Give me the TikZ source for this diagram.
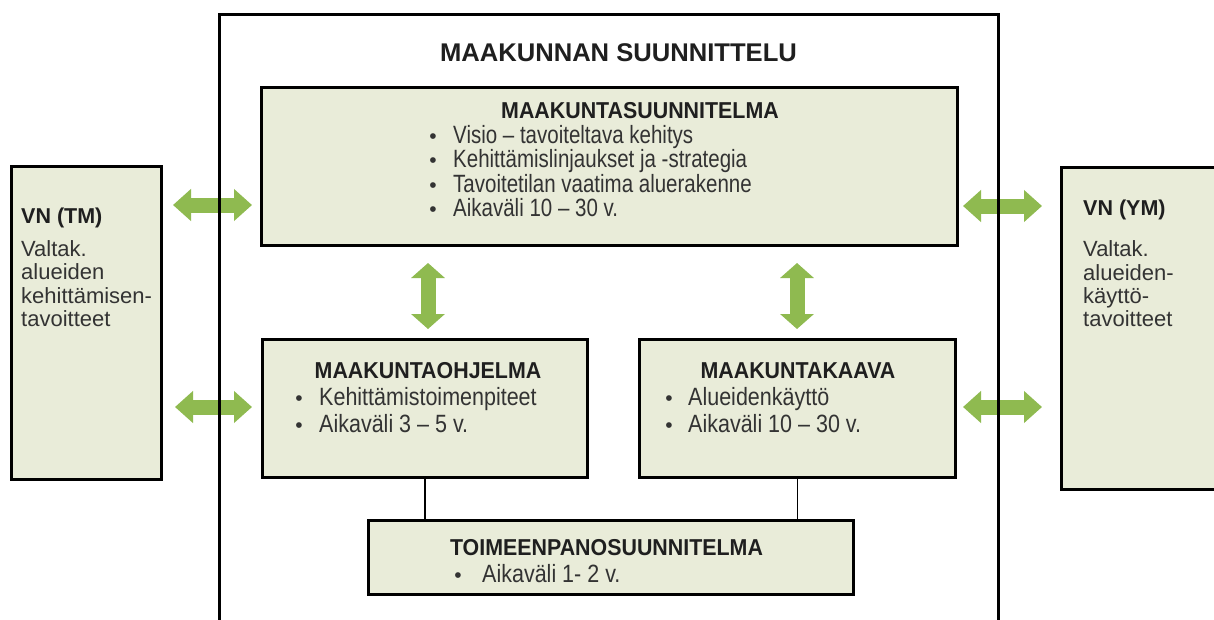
\documentclass[tikz,border=0pt]{standalone}
\usepackage{fontspec}
\setmainfont{Liberation Sans}
\newfontfamily\narrowfont{Liberation Sans}[FakeStretch=0.86]
\newfontfamily\narrowerfont{Liberation Sans}[FakeStretch=0.82]
\newfontfamily\headfont{Liberation Sans}[FakeStretch=0.93]
\usetikzlibrary{arrows.meta}
\definecolor{boxfill}{HTML}{E9ECD9}
\definecolor{arrowgreen}{HTML}{8FBA50}
\definecolor{bodytext}{HTML}{333333}
\begin{document}
\begin{tikzpicture}[x=1pt,y=-1pt,
  box/.style={draw=black, line width=3pt, fill=boxfill, anchor=north west, inner sep=0pt},
  framebox/.style={draw=black, line width=3pt, anchor=north west, inner sep=0pt},
  titletext/.style={font=\fontsize{25.6}{30}\selectfont\bfseries, text=black!88, anchor=base, inner sep=0pt},
  headtext/.style={font=\headfont\fontsize{23}{27}\selectfont\bfseries, text=black!88, anchor=base, inner sep=0pt},
  bodyline/.style={font=\narrowfont\fontsize{25}{29}\selectfont, text=bodytext, anchor=base west, inner sep=0pt},
  upperline/.style={font=\narrowerfont\fontsize{25}{29}\selectfont, text=bodytext, anchor=base west, inner sep=0pt},
  bulletdot/.style={font=\fontsize{21}{25}\selectfont, text=bodytext, anchor=base, inner sep=0pt},
  vnhead/.style={font=\fontsize{21.5}{26}\selectfont\bfseries, text=black!88, anchor=base west, inner sep=0pt},
  vnbody/.style={font=\fontsize{22}{26}\selectfont, text=bodytext, anchor=base west, inner sep=0pt},
  harrow/.style={draw=arrowgreen, line width=15pt, {Triangle[length=18pt,width=31pt]}-{Triangle[length=18pt,width=31pt]}},
  varrow/.style={draw=arrowgreen, line width=15pt, {Triangle[length=15pt,width=33pt]}-{Triangle[length=15pt,width=33pt]}},
  conn/.style={draw=black, line width=1.5pt}]
\useasboundingbox (0,0) rectangle (1214,619);
\clip (0,0) rectangle (1214,619);
\fill[white] (0,0) rectangle (1214,619);

% coordinates for arrows
\coordinate (la1) at (173,205); \coordinate (la2) at (252,205);
\coordinate (lb1) at (175,407); \coordinate (lb2) at (252,407);
\coordinate (ra1) at (963,206); \coordinate (ra2) at (1042,206);
\coordinate (rb1) at (963,407); \coordinate (rb2) at (1042,407);
\coordinate (va1) at (428,263); \coordinate (va2) at (428,329);
\coordinate (vb1) at (797,263); \coordinate (vb2) at (797,329);

% green double arrows
\draw[harrow] (la1) -- (la2);
\draw[harrow] (lb1) -- (lb2);
\draw[harrow] (ra1) -- (ra2);
\draw[harrow] (rb1) -- (rb2);
\draw[varrow] (va1) -- (va2);
\draw[varrow] (vb1) -- (vb2);

% outer frame
\node[framebox, minimum width=779pt, minimum height=627pt] (main) at (218,13) {};
\node[titletext] (title) at (618.5,61.7) {MAAKUNNAN SUUNNITTELU};

% side boxes
\node[box, minimum width=150pt, minimum height=313pt] (vntm) at (10,165) {};
\node[box, minimum width=180pt, minimum height=322pt] (vnym) at (1060,166) {};

% inner boxes
\node[box, minimum width=696pt, minimum height=158pt] (ms) at (260,86) {};
\node[box, minimum width=325pt, minimum height=138pt] (mo) at (261,338) {};
\node[box, minimum width=316pt, minimum height=138pt] (mk) at (638,338) {};
\node[box, minimum width=485pt, minimum height=74pt] (tp) at (367,519) {};

% connectors
\draw[conn] (mo.south) -- (mo.south |- tp.north);
\draw[conn] (mk.south) -- (mk.south |- tp.north);

% MAAKUNTASUUNNITELMA
\node[headtext] (msh) at (640,118) {MAAKUNTASUUNNITELMA};
\node[bulletdot] (msb1) at (433,143) {•};
\node[upperline] (mst1) at (453,143) {Visio – tavoiteltava kehitys};
\node[bulletdot] (msb2) at (433,167.5) {•};
\node[upperline] (mst2) at (453,167.5) {Kehittämislinjaukset ja -strategia};
\node[bulletdot] (msb3) at (433,192) {•};
\node[upperline] (mst3) at (453,192) {Tavoitetilan vaatima aluerakenne};
\node[bulletdot] (msb4) at (433,216) {•};
\node[upperline] (mst4) at (453,216) {Aikaväli 10 – 30 v.};

% MAAKUNTAOHJELMA
\node[headtext] (moh) at (428,378) {MAAKUNTAOHJELMA};
\node[bulletdot] (mob1) at (299,405) {•};
\node[bodyline] (mot1) at (319,405) {Kehittämistoimenpiteet};
\node[bulletdot] (mob2) at (299,432) {•};
\node[bodyline] (mot2) at (319,432) {Aikaväli 3 – 5 v.};

% MAAKUNTAKAAVA
\node[headtext] (mkh) at (798,378) {MAAKUNTAKAAVA};
\node[bulletdot] (mkb1) at (669,405) {•};
\node[bodyline] (mkt1) at (688,405) {Alueidenkäyttö};
\node[bulletdot] (mkb2) at (669,432) {•};
\node[bodyline] (mkt2) at (688,432) {Aikaväli 10 – 30 v.};

% TOIMEENPANOSUUNNITELMA
\node[headtext] (tph) at (606.5,555) {TOIMEENPANOSUUNNITELMA};
\node[bulletdot] (tpb1) at (458,582) {•};
\node[bodyline] (tpt1) at (482,582) {Aikaväli 1- 2 v.};

% VN (TM)
\node[vnhead] (tmh) at (21,223) {VN (TM)};
\node[vnbody] (tm1) at (21,256.5) {Valtak.};
\node[vnbody] (tm2) at (21,279.8) {alueiden};
\node[vnbody] (tm3) at (21,303) {kehittämisen-};
\node[vnbody] (tm4) at (21,326.3) {tavoitteet};

% VN (YM)
\node[vnhead] (ymh) at (1083,215) {VN (YM)};
\node[vnbody] (ym1) at (1083,256.7) {Valtak.};
\node[vnbody] (ym2) at (1083,280) {alueiden-};
\node[vnbody] (ym3) at (1083,303.3) {käyttö-};
\node[vnbody] (ym4) at (1083,326.6) {tavoitteet};
\end{tikzpicture}
\end{document}
